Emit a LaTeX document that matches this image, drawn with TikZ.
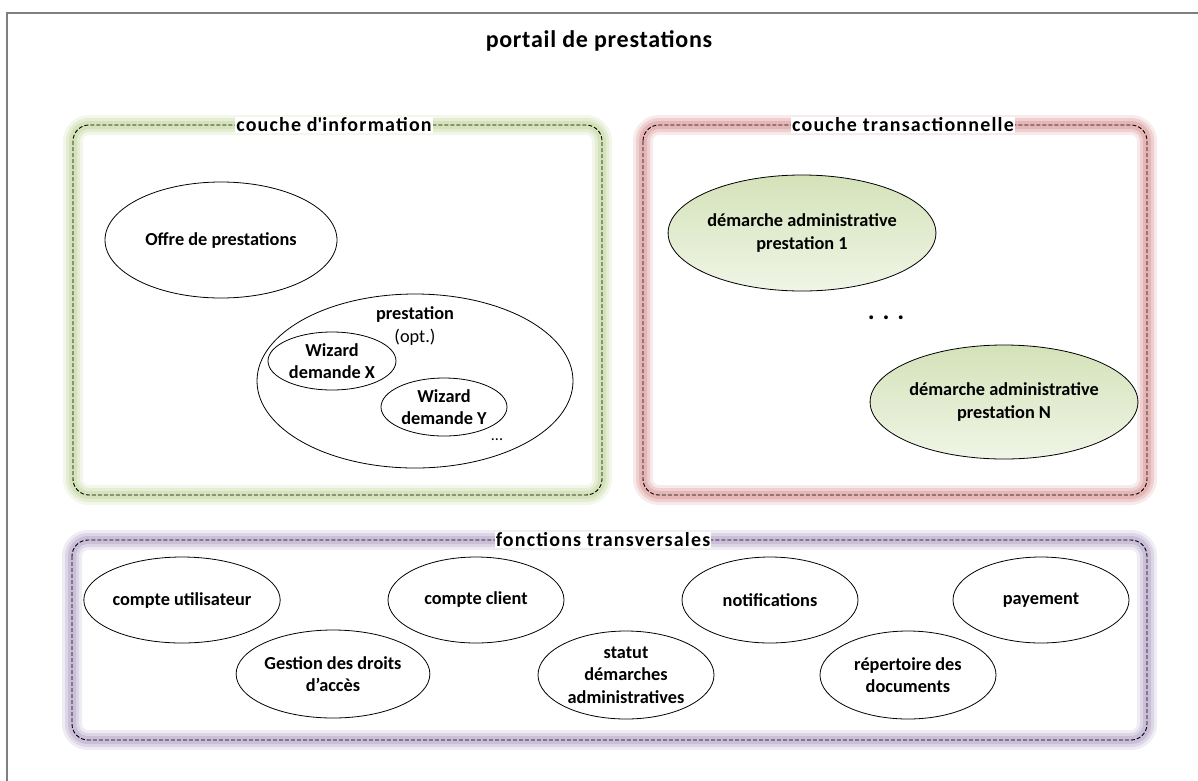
\documentclass[tikz,border=0pt]{standalone}
\usepackage{fontspec}
\setmainfont{Carlito}
\usetikzlibrary{shapes.geometric}

\definecolor{framegray}{RGB}{127,127,127}
\definecolor{glowgreen}{RGB}{195,214,155}
\definecolor{glowred}{RGB}{217,150,148}
\definecolor{glowpurple}{RGB}{178,162,199}
\definecolor{ovaltop}{RGB}{212,226,185}
\definecolor{ovalbottom}{RGB}{240,245,230}

\newcommand\nodefont{\fontsize{18.3}{22.3}\selectfont\bfseries}
\newcommand\labelfont{\fontsize{20}{24}\selectfont\bfseries\addfontfeature{LetterSpace=6}}
\newcommand\titlefont{\fontsize{24}{28}\selectfont\bfseries\addfontfeature{LetterSpace=3}}

\tikzset{
  layerbox/.style={draw=black, dash pattern=on 4pt off 2pt, line width=0.9pt, rounded corners=16pt},
  layerlabel/.style={fill=white, inner xsep=1pt, inner ysep=1pt, font=\labelfont},
  oval/.style={ellipse, draw=black, line width=0.8pt, inner sep=0pt, align=center, font=\nodefont},
  demarche/.style={oval, top color=ovaltop, bottom color=ovalbottom},
  plaintext/.style={inner sep=0pt, align=center, font=\nodefont},
}

% soft glow behind a dashed rounded box
\newcommand\glowbox[3]{%
  \foreach \w/\o in {20/0.2,14/0.3,8/0.45}{%
    \draw[draw=#1, line width=\w pt, opacity=\o, rounded corners=16pt] (#2) rectangle (#3);
  }%
  \draw[layerbox] (#2) rectangle (#3);
}

\begin{document}
\begin{tikzpicture}[x=1pt, y=-1pt]
  \useasboundingbox (0,0) rectangle (1198,780);
  \clip (0,0) rectangle (1198,780);

  % outer frame
  \draw[framegray, line width=2pt] (1220,13) -- (7,13) -- (7,800);

  \node[font=\titlefont] (title) at (599,41) {portail de prestations};

  % layer boxes
  \coordinate (infoTL) at (73,125);
  \coordinate (infoBR) at (602,495);
  \coordinate (transTL) at (643,125);
  \coordinate (transBR) at (1147,495);
  \coordinate (fonTL) at (72,540);
  \coordinate (fonBR) at (1147,740);

  \glowbox{glowgreen}{infoTL}{infoBR}
  \glowbox{glowred}{transTL}{transBR}
  \glowbox{glowpurple}{fonTL}{fonBR}

  \node[layerlabel] (infolbl) at (334,125) {couche d\textquotesingle information};
  \node[layerlabel] (translbl) at (903,125) {couche transactionnelle};
  \node[layerlabel] (fonlbl) at (603,540) {fonctions transversales};

  % information layer
  \node[oval, minimum width=232pt, minimum height=116pt] (offre) at (221,240) {Offre de prestations};
  \node[oval, minimum width=316pt, minimum height=174pt] (prest) at (415,381) {};
  \node[plaintext] (prestlbl) at (415,326) {prestation\\{\mdseries (opt.)}};
  \node[oval, minimum width=128pt, minimum height=58pt] (wizx) at (332,361) {Wizard\\demande X};
  \node[oval, minimum width=126pt, minimum height=58pt] (wizy) at (444,407) {Wizard\\demande Y};
  \node[plaintext, font=\fontsize{16}{18}\selectfont] (prestdots) at (497,440) {...};

  % transaction layer
  \node[demarche, minimum width=234pt, minimum height=116pt] (dem1) at (802,233) {démarche administrative\\prestation 1};
  \node[plaintext, font=\fontsize{26}{28}\selectfont\bfseries] (demdots) at (886,318) {. . .};
  \node[demarche, minimum width=234pt, minimum height=114pt] (demN) at (1004,402) {démarche administrative\\prestation N};

  % cross-cutting functions
  \node[oval, minimum width=176pt, minimum height=86pt] (cptuser) at (182,600) {compte utilisateur};
  \node[oval, minimum width=176pt, minimum height=88pt] (droits) at (333,674) {Gestion des droits\\d’accès};
  \node[oval, minimum width=176pt, minimum height=86pt] (cptclient) at (476,600) {compte client};
  \node[oval, minimum width=176pt, minimum height=88pt] (statut) at (626,675) {statut\\démarches\\administratives};
  \node[oval, minimum width=176pt, minimum height=86pt] (notif) at (770,600) {notifications};
  \node[oval, minimum width=176pt, minimum height=88pt] (repert) at (908,675) {répertoire des\\documents};
  \node[oval, minimum width=176pt, minimum height=86pt] (paye) at (1041,600) {payement};
\end{tikzpicture}
\end{document}
